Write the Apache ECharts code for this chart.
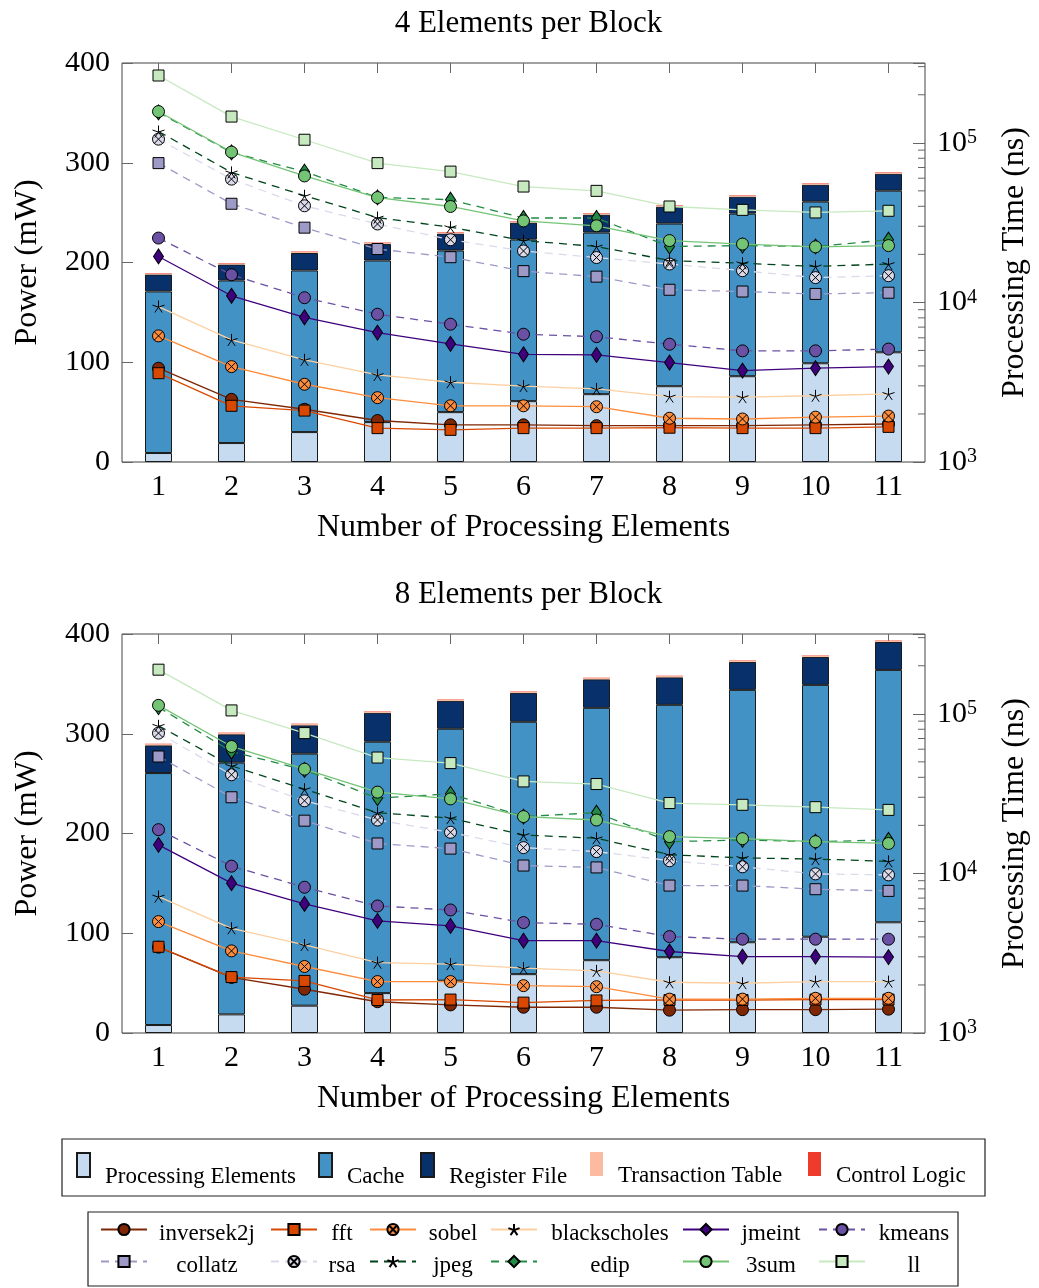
<!DOCTYPE html>
<html>
<head>
<meta charset="utf-8">
<title>Power and processing time per block size</title>
<script src="https://cdn.jsdelivr.net/npm/echarts@6/dist/echarts.min.js"></script>
<style>
  html, body { margin: 0; padding: 0; background: #fff; }
  #chart { width: 1039px; height: 1288px; }
</style>
</head>
<body>
<div id="chart"></div>
<script>
// x categories: number of processing elements
var categories = ['1', '2', '3', '4', '5', '6', '7', '8', '9', '10', '11'];

// power breakdown (mW), 4 elements per block
var pe4 = [9, 19, 30, 40, 50, 61, 68, 76, 86, 99, 110];
var cache4 = [162, 163, 162, 162, 162, 162, 162, 163, 163, 162, 162];
var regfile4 = [17, 16, 17.5, 16.5, 17, 17, 18, 17, 17, 17, 17];
var ttable4 = [1, 1, 1, 1, 1, 1, 1, 1, 1, 1, 1];
var ctrl4 = [0.5, 0.5, 0.5, 0.5, 0.5, 0.5, 0.5, 0.5, 0.5, 0.5, 0.5];

// power breakdown (mW), 8 elements per block
var pe8 = [8, 18.7, 27.4, 40, 52.4, 59, 73, 76, 91, 96.5, 111];
var cache8 = [252.6, 252.3, 252.6, 252, 252.6, 253, 253, 253, 253, 252.5, 253];
var regfile8 = [27.8, 28.5, 28.5, 29, 28, 29, 28.6, 27.6, 28, 28, 28];
var ttable8 = [1.2, 1.2, 1.2, 1.2, 1.2, 1.2, 1.2, 1.2, 1.2, 1.2, 1.2];
var ctrl8 = [0.4, 0.4, 0.4, 0.4, 0.4, 0.4, 0.4, 0.4, 0.4, 0.4, 0.4];

// processing time (ns), 4 elements per block
var inversek2j4 = [3870, 2470, 2140, 1820, 1710, 1710, 1690, 1690, 1690, 1710, 1730];
var fft4 = [3600, 2250, 2100, 1630, 1590, 1630, 1630, 1640, 1630, 1630, 1660];
var sobel4 = [6170, 3960, 3070, 2530, 2250, 2250, 2220, 1880, 1860, 1910, 1940];
var blackscholes4 = [9420, 5820, 4370, 3510, 3160, 2990, 2870, 2570, 2550, 2600, 2670];
var jmeint4 = [19400, 11000, 8070, 6470, 5500, 4730, 4690, 4200, 3740, 3870, 3960];
var kmeans4 = [25300, 14900, 10700, 8430, 7300, 6320, 6100, 5470, 4970, 4970, 5100];
var collatz4 = [74600, 41500, 29400, 21600, 19200, 15700, 14500, 12000, 11700, 11300, 11500];
var rsa4 = [105400, 59200, 40300, 31000, 24700, 21000, 19100, 17400, 15800, 14300, 14700];
var jpeg4 = [117800, 65200, 46600, 34000, 29600, 24400, 22400, 18300, 17600, 16800, 17400];
var edip4 = [155000, 87000, 66000, 45500, 44000, 33800, 33800, 22400, 22700, 22400, 24700];
var sum3_4 = [157000, 87500, 62000, 45400, 39900, 32400, 30200, 24400, 23200, 22300, 22700];
var ll4 = [264000, 146000, 104500, 74600, 66000, 53200, 50000, 39900, 38000, 36600, 37500];

// processing time (ns), 8 elements per block
var inversek2j8 = [3450, 2230, 1880, 1570, 1500, 1450, 1450, 1390, 1400, 1400, 1410];
var fft8 = [3470, 2240, 2120, 1610, 1620, 1550, 1600, 1610, 1610, 1620, 1620];
var sobel8 = [4990, 3270, 2610, 2100, 2100, 1980, 1950, 1630, 1630, 1650, 1650];
var blackscholes8 = [7160, 4530, 3560, 2760, 2700, 2550, 2450, 2080, 2050, 2100, 2100];
var jmeint8 = [15100, 8690, 6440, 5040, 4690, 3790, 3790, 3240, 3010, 3010, 2990];
var kmeans8 = [18800, 11100, 8190, 6250, 5900, 4920, 4800, 4020, 3870, 3870, 3870];
var collatz8 = [54000, 30000, 21400, 15400, 14300, 11200, 10900, 8390, 8390, 7960, 7770];
var rsa8 = [75700, 41500, 28500, 21600, 18100, 14500, 13700, 12000, 11000, 9930, 9790];
var jpeg8 = [84100, 47200, 33700, 24000, 22200, 17400, 16600, 13100, 12500, 12300, 11900];
var edip8 = [110000, 58000, 44500, 29600, 31500, 22700, 24000, 15800, 16200, 15800, 16200];
var sum3_8 = [113000, 62400, 45000, 32300, 29300, 22700, 21600, 17000, 16500, 15800, 15400];
var ll8 = [189000, 105000, 75700, 53200, 49100, 37700, 36300, 27600, 26900, 26000, 25000];

var barNames = ['Processing Elements', 'Cache', 'Register File', 'Transaction Table', 'Control Logic'];
var lineNames = ['inversek2j', 'fft', 'sobel', 'blackscholes', 'jmeint', 'kmeans',
                 'collatz', 'rsa', 'jpeg', 'edip', '3sum', 'll'];
var titles = ['4 Elements per Block', '8 Elements per Block'];

var barData = [
  [pe4, cache4, regfile4, ttable4, ctrl4],
  [pe8, cache8, regfile8, ttable8, ctrl8]
];
var lineData = [
  [inversek2j4, fft4, sobel4, blackscholes4, jmeint4, kmeans4, collatz4, rsa4, jpeg4, edip4, sum3_4, ll4],
  [inversek2j8, fft8, sobel8, blackscholes8, jmeint8, kmeans8, collatz8, rsa8, jpeg8, edip8, sum3_8, ll8]
];

var FONT = "'Liberation Serif', 'DejaVu Serif', serif";
var STAR = 'path://M0,-10L0,0M9.51,-3.09L0,0M5.88,8.09L0,0M-5.88,8.09L0,0M-9.51,-3.09L0,0';
var OTIMES = 'path://M0,-10A10,10,0,1,1,0,10A10,10,0,1,1,0,-10ZM-7.07,-7.07L7.07,7.07M-7.07,7.07L7.07,-7.07';

var barColors = ['#c6dbef', '#4292c6', '#08306b', '#fcbba1', '#ef3b2c'];
var lineLook = [
  { color: '#7f2704', symbol: 'circle', size: 12, fill: '#7f2704', dash: false },
  { color: '#d94801', symbol: 'rect', size: 11, fill: '#d94801', dash: false },
  { color: '#fd8d3c', symbol: OTIMES, size: 12, fill: '#fd8d3c', dash: false },
  { color: '#fdd0a2', symbol: STAR, size: 12, fill: '#000', dash: false },
  { color: '#3f007d', symbol: 'diamond', size: [10, 15], fill: '#3f007d', dash: false },
  { color: '#6a51a3', symbol: 'circle', size: 12, fill: '#6a51a3', dash: true },
  { color: '#9e9ac8', symbol: 'rect', size: 11, fill: '#9e9ac8', dash: true },
  { color: '#dadaeb', symbol: OTIMES, size: 12, fill: '#dadaeb', dash: true },
  { color: '#00441b', symbol: STAR, size: 12, fill: '#000', dash: true },
  { color: '#238b45', symbol: 'diamond', size: [10, 15], fill: '#238b45', dash: true },
  { color: '#74c476', symbol: 'circle', size: 12, fill: '#74c476', dash: false },
  { color: '#c7e9c0', symbol: 'rect', size: 11, fill: '#c7e9c0', dash: false }
];

var grids = [
  { left: 122, top: 63, width: 803, height: 399 },
  { left: 122, top: 634, width: 803, height: 399 }
];

function powLabel(v) {
  var e = Math.log(v) / Math.LN10;
  var r = Math.round(e);
  if (Math.abs(e - r) > 1e-6) return '';
  return '{b|10}{s|' + r + '}';
}

var option = {
  animation: false,
  textStyle: { fontFamily: FONT, color: '#000' },
  title: [],
  grid: [],
  xAxis: [],
  yAxis: [],
  series: [],
  legend: []
};

grids.forEach(function (g, i) {
  option.title.push({
    text: titles[i], left: g.left + g.width / 2, top: g.top - 60, textAlign: 'center',
    textStyle: { fontFamily: FONT, fontSize: 31, fontWeight: 'normal', color: '#000' }
  });
  option.grid.push({
    left: g.left, top: g.top, width: g.width, height: g.height,
    show: true, borderColor: '#444', borderWidth: 1, backgroundColor: 'transparent'
  });
  var tick = { show: true, inside: true, alignWithLabel: true, length: 10, lineStyle: { color: '#666' } };
  option.xAxis.push({
    gridIndex: i, type: 'category', data: categories, position: 'bottom',
    axisLine: { show: false }, axisTick: tick,
    axisLabel: { fontFamily: FONT, fontSize: 30, color: '#000', margin: 10 },
    name: 'Number of Processing Elements', nameLocation: 'middle', nameGap: 50,
    nameTextStyle: { fontFamily: FONT, fontSize: 32, color: '#000' }
  });
  option.xAxis.push({
    gridIndex: i, type: 'category', data: categories, position: 'top',
    axisLine: { show: false }, axisTick: tick, axisLabel: { show: false }
  });
  option.yAxis.push({
    gridIndex: i, type: 'value', position: 'left', min: 0, max: 400, interval: 100,
    axisLine: { show: false }, splitLine: { show: false },
    axisTick: { show: true, inside: true, length: 11, lineStyle: { color: '#666' } },
    axisLabel: { fontFamily: FONT, fontSize: 30, color: '#000', margin: 12 },
    name: 'Power (mW)', nameLocation: 'middle', nameGap: 78, nameRotate: 90,
    nameTextStyle: { fontFamily: FONT, fontSize: 32, color: '#000' }
  });
  option.yAxis.push({
    gridIndex: i, type: 'log', logBase: 10, position: 'right', min: 1000, max: 316227.77,
    axisLine: { show: false }, splitLine: { show: false },
    axisTick: { show: true, inside: true, length: 12, lineStyle: { color: '#666' } },
    axisLabel: {
      margin: 12, color: '#000', formatter: powLabel,
      rich: {
        b: { fontFamily: FONT, fontSize: 30, color: '#000' },
        s: { fontFamily: FONT, fontSize: 20, color: '#000', verticalAlign: 'top' }
      }
    },
    name: 'Processing Time (ns)', nameLocation: 'middle', nameGap: 74, nameRotate: 90,
    nameTextStyle: { fontFamily: FONT, fontSize: 32, color: '#000' }
  });

  barNames.forEach(function (name, k) {
    option.series.push({
      name: name, type: 'bar', xAxisIndex: 2 * i, yAxisIndex: 2 * i,
      stack: 'power' + i, barWidth: 27, z: 2,
      itemStyle: {
        color: barColors[k],
        borderColor: k < 3 ? '#1a1a1a' : barColors[k],
        borderWidth: k < 3 ? 1 : 0
      },
      emphasis: { disabled: true },
      data: barData[i][k]
    });
  });

  lineNames.forEach(function (name, k) {
    var look = lineLook[k];
    option.series.push({
      name: name, type: 'line', xAxisIndex: 2 * i, yAxisIndex: 2 * i + 1, z: 3,
      symbol: look.symbol, symbolSize: look.size, showSymbol: true, showAllSymbol: true,
      lineStyle: { color: look.color, width: 1.3, type: look.dash ? [8, 6] : 'solid' },
      itemStyle: { color: look.fill, borderColor: '#000', borderWidth: 1 },
      emphasis: { disabled: true },
      data: lineData[i][k]
    });
  });
});

// bar legend, one entry per box column
var barLegendLeft = [76, 318, 420, 590, 808];
barNames.forEach(function (name, k) {
  option.legend.push({
    data: [name], left: barLegendLeft[k], top: 1152, padding: 0,
    selectedMode: false, icon: 'rect', itemWidth: 13, itemHeight: 24,
    formatter: function (n) { return '{t|' + n + '}'; },
    textStyle: { rich: { t: { fontFamily: FONT, fontSize: 23, color: '#000', padding: [24, 0, 0, 10] } } }
  });
});

// line legend: 6 columns x 2 rows, text centred in its column
var colIcon = [100, 270, 369, 490, 682, 818];
var colText = [206, 341, 452, 609, 770, 913];
var rowTop = [1222, 1254];
lineNames.forEach(function (name, k) {
  var c = k % 6, r = Math.floor(k / 6);
  var w = 2 * (colText[c] - colIcon[c] - 51);
  option.legend.push({
    data: [name], left: colIcon[c], top: rowTop[r], padding: 0,
    selectedMode: false, itemWidth: 46, itemHeight: 14,
    formatter: function (n) { return '{t|' + n + '}'; },
    textStyle: { rich: { t: { fontFamily: FONT, fontSize: 23, color: '#000', width: w, align: 'center', padding: [8, 0, 0, 0] } } }
  });
});

var chart = echarts.init(document.getElementById('chart'), null, { renderer: 'canvas' });
chart.setOption(option);

// legend frames and log minor ticks on the right axes
var graphics = [
  { type: 'rect', silent: true, shape: { x: 62, y: 1139, width: 923, height: 57 },
    style: { fill: 'none', stroke: '#222', lineWidth: 1.2 } },
  { type: 'rect', silent: true, shape: { x: 88, y: 1212, width: 870, height: 74 },
    style: { fill: 'none', stroke: '#222', lineWidth: 1.2 } }
];
var minorVals = [];
for (var e = 3; e <= 5; e++) {
  for (var m = 2; m <= 9; m++) {
    var v = m * Math.pow(10, e);
    if (v < 316000) minorVals.push(v);
  }
}
grids.forEach(function (g, i) {
  var right = g.left + g.width;
  minorVals.forEach(function (v) {
    var y = chart.convertToPixel({ yAxisIndex: 2 * i + 1 }, v);
    graphics.push({
      type: 'line', silent: true,
      shape: { x1: right - 7, y1: y, x2: right, y2: y },
      style: { stroke: '#666', lineWidth: 1 }
    });
  });
});
chart.setOption({ graphic: graphics });
</script>
</body>
</html>
